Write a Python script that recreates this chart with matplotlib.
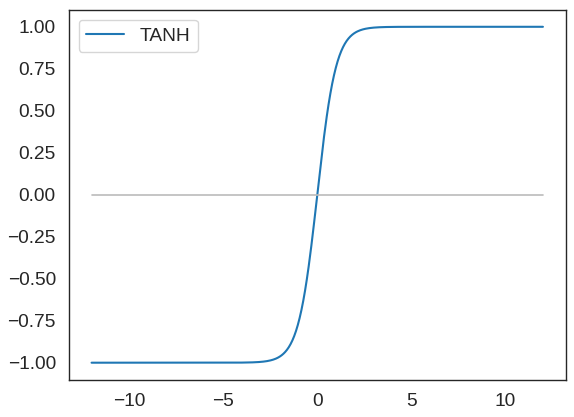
import numpy as np
import seaborn as sns
from matplotlib import pyplot as plt

# x range of the plotted function
x_min = -12
x_max = 12
n_points = 500
label = "TANH"

sns.set_theme(style="white", font_scale=1.25)
plt.rcParams['font.family'] = ['Liberation Sans', 'DejaVu Sans']

x = np.linspace(x_min, x_max, n_points)
y = np.tanh(x)

fig = plt.figure(figsize=(5.74, 4.17), dpi=100)
ax = fig.add_axes([69/574, 1-379.5/417, (565.5-69)/574, (379.5-10)/417])
ax.plot(x, y, color='#1f77b4', label=label)
ax.plot(x, np.zeros_like(x), color='#bbbbbb', lw=1.2)
for s in ax.spines.values():
    s.set_color('#262626')
    s.set_linewidth(1.0)
ax.legend(loc='upper left')
fig.savefig("out.png", dpi=100)
